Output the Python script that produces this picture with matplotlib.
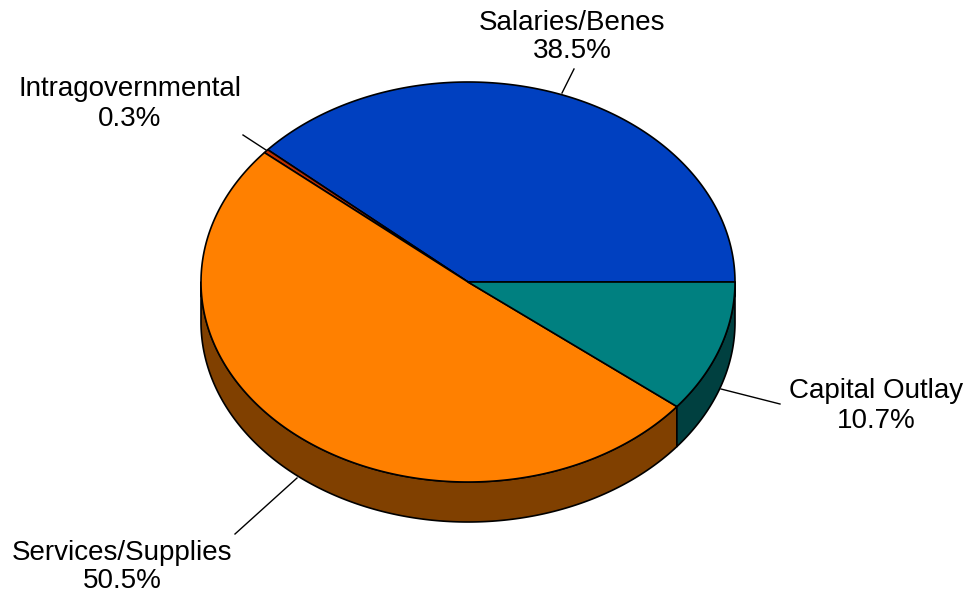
import matplotlib.pyplot as plt
import numpy as np
from matplotlib.patches import Polygon

# Budget shares (percent), counter-clockwise from 3 o'clock
labels = ['Salaries/Benes', 'Intragovernmental', 'Services/Supplies', 'Capital Outlay']
shares = [38.5, 0.3, 50.5, 10.7]
top_colors = ['#0040C0', '#C03000', '#FF8000', '#008080']
side_colors = ['#002060', '#601800', '#804000', '#004040']

# ellipse geometry in pixel space
cx, cy = 468, 282
rx, ry = 267, 200
depth = 40

# label text positions and leader-line ends
label_pos = [(572, 37), (130, 104), (122, 567), (876, 406)]
leaders = [((562, 93), (574, 69)), ((266, 150), (243, 135)),
           ((297, 478), (235, 534)), ((721, 389), (780, 404))]

fig = plt.figure(figsize=(9.69, 5.99), dpi=100)
ax = fig.add_axes([0, 0, 1, 1])
ax.set_xlim(0, 969)
ax.set_ylim(599, 0)
ax.axis('off')


def pt(t, dy=0):
    return cx + rx * np.cos(np.radians(t)), cy - ry * np.sin(np.radians(t)) + dy


bounds = np.concatenate([[0], np.cumsum(shares) / 100 * 360])

# side walls (only the front half, 180..360 deg)
for i in range(len(shares)):
    a, b = max(bounds[i], 180), min(bounds[i + 1], 360)
    if b <= a:
        continue
    t = np.linspace(a, b, 200)
    x, y = pt(t)
    xb, yb = pt(t[::-1], depth)
    poly = np.column_stack([np.r_[x, xb], np.r_[y, yb]])
    ax.add_patch(Polygon(poly, closed=True, facecolor=side_colors[i],
                         edgecolor='black', linewidth=1.2, joinstyle='round'))

# top faces
for i in range(len(shares)):
    t = np.linspace(bounds[i], bounds[i + 1], 300)
    x, y = pt(t)
    poly = np.column_stack([np.r_[cx, x], np.r_[cy, y]])
    ax.add_patch(Polygon(poly, closed=True, facecolor=top_colors[i],
                         edgecolor='black', linewidth=1.2, joinstyle='round'))

for lab, s, (lx, ly), (p0, p1) in zip(labels, shares, label_pos, leaders):
    ax.plot([p0[0], p1[0]], [p0[1], p1[1]], color='black', linewidth=1)
    ax.text(lx, ly, f'{lab}\n{s:.1f}%', ha='center', va='center',
            fontsize=20, family='Liberation Sans', linespacing=1.15)

fig.savefig('out.png', dpi=100)
